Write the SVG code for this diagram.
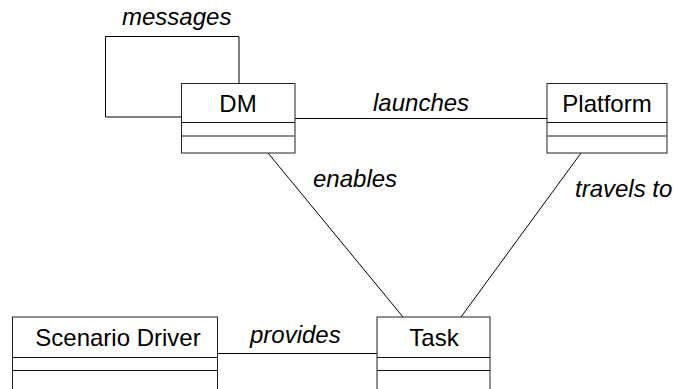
<svg xmlns="http://www.w3.org/2000/svg" width="673" height="389" viewBox="0 0 673 389">
<style>
.box{fill:#fff;stroke:#222;stroke-width:1}
.div1{stroke:#111;stroke-width:1}
.div2{stroke:#666;stroke-width:1.5}
.name{font-family:"Liberation Sans",Arial,sans-serif;font-size:24px;fill:#000;text-anchor:middle}
.lbl{font-family:"Liberation Sans",Arial,sans-serif;font-size:24px;font-style:italic;fill:#000}
.conn{fill:none;stroke:#000;stroke-width:1}
</style>
<rect width="673" height="389" fill="#fff"/>
<g id="connectors">
<polyline class="conn" points="239,83 239,36.5 105.5,36.5 105.5,117 181,117"/>
<line class="conn" x1="295" y1="118.5" x2="547" y2="118.5"/>
<line class="conn" x1="268" y1="153" x2="403" y2="317"/>
<line class="conn" x1="581" y1="153" x2="461" y2="317"/>
<line class="conn" x1="217" y1="353.5" x2="377" y2="353.5"/>
<text class="lbl" x="122" y="25">messages</text>
<text class="lbl" x="373" y="111">launches</text>
<text class="lbl" x="313" y="187">enables</text>
<text class="lbl" x="575" y="197">travels to</text>
<text class="lbl" x="250" y="343">provides</text>
</g>
<g id="DM">
<rect class="box" x="181.5" y="83.5" width="113.5" height="69.5"/>
<line class="div1" x1="181.5" y1="122.5" x2="295" y2="122.5"/>
<line class="div2" x1="181.5" y1="136" x2="295" y2="136"/>
<text class="name" x="238" y="112">DM</text>
</g>
<g id="Platform">
<rect class="box" x="547" y="83.5" width="120" height="69.5"/>
<line class="div1" x1="547" y1="122.5" x2="667" y2="122.5"/>
<line class="div2" x1="547" y1="136" x2="667" y2="136"/>
<text class="name" x="607" y="112">Platform</text>
</g>
<g id="ScenarioDriver">
<rect class="box" x="12.5" y="317" width="205" height="80"/>
<line class="div1" x1="12.5" y1="357.5" x2="217.5" y2="357.5"/>
<line class="div1" x1="12.5" y1="370.5" x2="217.5" y2="370.5"/>
<text class="name" x="118" y="346">Scenario Driver</text>
</g>
<g id="Task">
<rect class="box" x="377" y="317" width="113" height="80"/>
<line class="div1" x1="377" y1="357.5" x2="490" y2="357.5"/>
<line class="div1" x1="377" y1="370.5" x2="490" y2="370.5"/>
<text class="name" x="434" y="346">Task</text>
</g>
</svg>
